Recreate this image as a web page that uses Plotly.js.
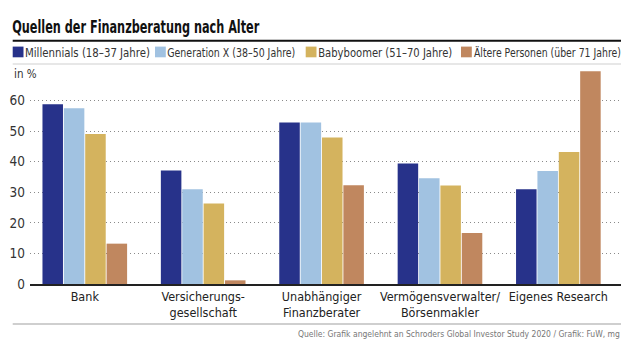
<!DOCTYPE html>
<html>
<head>
<meta charset="utf-8">
<script src="https://cdn.plot.ly/plotly-3.0.1.min.js"></script>
<style>
html,body{margin:0;padding:0;background:#fff;}
#chart{width:640px;height:355px;}
#chart svg text{font-stretch:condensed !important;}
</style>
</head>
<body>
<div id="chart"></div>
<script>
const categories = ["Bank", "Versicherungs-<br>gesellschaft", "Unabhängiger<br>Finanzberater", "Vermögensverwalter/<br>Börsenmakler", "Eigenes Research"];
const seriesNames = ["Millennials (18–37 Jahre)", "Generation X (38–50 Jahre)", "Babyboomer (51–70 Jahre)", "Ältere Personen (über 71 Jahre)"];
const millennials = [58.8, 37.1, 52.8, 39.4, 31.0];
const generationX = [57.5, 31.0, 52.8, 34.6, 37.0];
const babyboomer = [49.1, 26.3, 47.9, 32.2, 43.2];
const aeltere = [13.2, 1.2, 32.3, 16.7, 69.6];
const colors = ["#27328a", "#a1c2e1", "#d4b35e", "#c0875f"];
const yTicks = [0, 10, 20, 30, 40, 50, 60];

const FONT = "'DejaVu Sans Condensed', 'DejaVu Sans', sans-serif";
const values = [millennials, generationX, babyboomer, aeltere];

const traces = values.map((v, i) => ({
  type: 'bar',
  name: seriesNames[i],
  x: categories,
  y: v,
  marker: {color: colors[i], line: {width: 0}},
  hoverinfo: 'y+name',
  showlegend: false
}));

const W = 640, H = 355, mL = 30, mR = 19, mT = 70, mB = 71;
const pw = W - mL - mR, ph = H - mT - mB;
function px2x(p) { return (p - mL) / pw; }
function py2y(p) { return (H - mB - p) / ph; }

// manual legend (squares + labels)
const legendX = [12.7, 155, 305.7, 461];
const legendTextW = [125, 128, 134, 147];
const legendShapes = [];
const legendAnn = [];
seriesNames.forEach((n, i) => {
  legendShapes.push({type: 'rect', xref: 'paper', yref: 'paper',
    x0: px2x(legendX[i]), x1: px2x(legendX[i] + 10.8),
    y0: py2y(57.3), y1: py2y(46.6),
    fillcolor: colors[i], line: {width: 0}});
  legendAnn.push({xref: 'paper', yref: 'paper', x: px2x(legendX[i] + 12.5 + legendTextW[i] / 2), y: py2y(52.5),
    xanchor: 'center', yanchor: 'middle', showarrow: false, text: n,
    font: {family: FONT, size: 11.5, color: '#333'}});
});
const titleW = 247;

const layout = {
  width: W, height: H,
  margin: {l: mL, r: mR, t: mT, b: mB, pad: 0},
  paper_bgcolor: '#fff', plot_bgcolor: '#fff',
  barmode: 'group', bargap: 0.278, bargroupgap: 0.04,
  showlegend: false,
  font: {family: FONT, color: '#222'},
  xaxis: {
    type: 'category', range: [-0.4627, 4.529],
    showline: true, linecolor: '#222', linewidth: 1.5,
    ticks: '', tickangle: 0, tickfont: {family: FONT, size: 12.5, color: '#222'},
    showgrid: false, fixedrange: true
  },
  yaxis: {
    range: [0, 70], tickvals: yTicks, ticktext: yTicks.map(String),
    showgrid: true, gridcolor: '#8a8a8a', gridwidth: 1, griddash: '1px,3px',
    zeroline: false, showline: false, ticks: '',
    tickfont: {family: FONT, size: 13.5, color: '#333'},
    ticklabelstandoff: 4, fixedrange: true
  },
  shapes: [
    {type: 'line', xref: 'paper', yref: 'paper', x0: px2x(12.7), x1: px2x(621), y0: py2y(40.7), y1: py2y(40.7), line: {color: '#111', width: 2}},
    {type: 'line', xref: 'paper', yref: 'paper', x0: px2x(12.7), x1: px2x(621), y0: py2y(64), y1: py2y(64), line: {color: '#d0d0d0', width: 1.2}},
    {type: 'line', xref: 'paper', yref: 'paper', x0: px2x(12.7), x1: px2x(621), y0: py2y(324), y1: py2y(324), line: {color: '#cfcfcf', width: 2}},
    ...legendShapes
  ],
  annotations: [
    {xref: 'paper', yref: 'paper', x: px2x(12 + titleW / 2), y: py2y(27.5), xanchor: 'center', yanchor: 'middle', showarrow: false,
     text: '<b>Quellen der Finanzberatung nach Alter</b>', font: {family: FONT, size: 17, color: '#111'}},
    {xref: 'paper', yref: 'paper', x: px2x(12), y: py2y(73.5), xanchor: 'left', yanchor: 'middle', showarrow: false,
     text: 'in %', font: {family: FONT, size: 11.5, color: '#333'}},
    {xref: 'paper', yref: 'paper', x: px2x(621.5), y: py2y(333.5), xanchor: 'right', yanchor: 'middle', showarrow: false,
     text: 'Quelle: Grafik angelehnt an Schroders Global Investor Study 2020 / Grafik: FuW, mg', font: {family: FONT, size: 8.5, color: '#777'}},
    ...legendAnn
  ]
};

Plotly.newPlot('chart', traces, layout, {displayModeBar: false, staticPlot: true}).then(gd => {
  // narrow the title and legend labels to the reference's condensed widths (text stays centred on its anchor)
  const texts = gd.querySelectorAll('.annotation-text');
  const fit = (el, w) => { if (el) { el.setAttribute('textLength', w); el.setAttribute('lengthAdjust', 'spacingAndGlyphs'); } };
  fit(texts[0], titleW);
  for (let i = 0; i < 4; i++) fit(texts[3 + i], legendTextW[i]);
});
</script>
</body>
</html>
